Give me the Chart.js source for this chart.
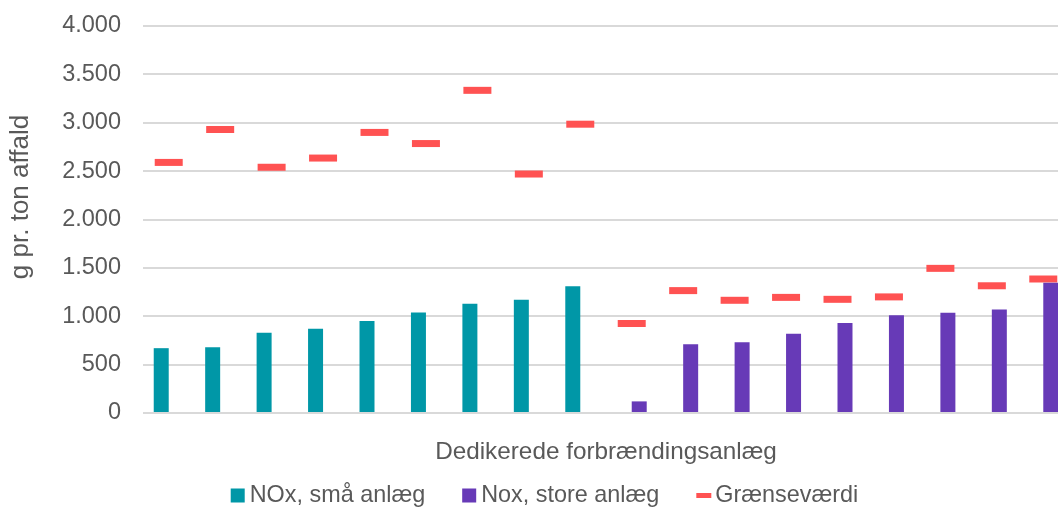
<!DOCTYPE html>
<html lang="da">
<head>
<meta charset="utf-8">
<title>NOx-udledning fra dedikerede forbrændingsanlæg</title>
<script src="https://cdn.jsdelivr.net/npm/chart.js@4.4.1/dist/chart.umd.min.js"></script>
<style>
  html, body { margin: 0; padding: 0; background: #ffffff; overflow: hidden; }
  #wrap { position: absolute; left: 0; top: 0; }
  canvas { display: block; }
</style>
</head>
<body>
<div id="wrap"><canvas id="chart" width="1069" height="507"></canvas></div>
<script>
// Anlæg (kategorier på x-aksen)
const plants = ['1', '2', '3', '4', '5', '6', '7', '8', '9',
                '10', '11', '12', '13', '14', '15', '16', '17', '18'];

// NOx-udledning, g pr. ton affald
const smallPlants = [670, 680, 830, 870, 950, 1040, 1130, 1170, 1310,
                     null, null, null, null, null, null, null, null, null];
const largePlants = [null, null, null, null, null, null, null, null, null,
                     120, 710, 730, 820, 930, 1010, 1035, 1070, 1345];
// Grænseværdi for hvert anlæg
const limitValues = [2590, 2930, 2540, 2635, 2900, 2785, 3335, 2470, 2985,
                     925, 1265, 1165, 1195, 1175, 1200, 1495, 1315, 1385];

// Værdiakse
const yTicks = [0, 500, 1000, 1500, 2000, 2500, 3000, 3500, 4000];

const seriesNames = ['NOx, små anlæg', 'Nox, store anlæg', 'Grænseværdi'];
const axisTitles = { x: 'Dedikerede forbrændingsanlæg', y: 'g pr. ton affald' };

const FONT = '"Liberation Sans", Arial, Helvetica, sans-serif';
const TEXT = '#595959';
const TEAL = '#0097A7';
const PURPLE = '#673AB7';
const RED = '#FF5252';

// Danish thousands separator
function formatDa(v) {
  return String(v).replace(/\B(?=(\d{3})+(?!\d))/g, '.');
}

// Rotated y-axis title
const yTitlePlugin = {
  id: 'yTitle',
  afterDraw(chart, args, opts) {
    const ctx = chart.ctx;
    ctx.save();
    ctx.translate(opts.x, opts.y);
    ctx.rotate(-Math.PI / 2);
    ctx.font = opts.font;
    ctx.fillStyle = opts.color;
    ctx.textAlign = 'center';
    ctx.textBaseline = 'middle';
    ctx.fillText(opts.text, 0, 0);
    ctx.restore();
  }
};

// Legend row under the axis title
const legendPlugin = {
  id: 'bottomLegend',
  afterDraw(chart, args, opts) {
    const ctx = chart.ctx;
    ctx.save();
    ctx.font = opts.font;
    ctx.textBaseline = 'middle';
    ctx.textAlign = 'left';
    const items = chart.data.datasets.map(ds => ({
      text: ds.label,
      color: ds.type === 'line' ? ds.borderColor : ds.backgroundColor,
      dash: ds.type === 'line'
    }));
    const widths = items.map(it => opts.markerW + opts.markerGap + ctx.measureText(it.text).width);
    const total = widths.reduce((a, b) => a + b, 0) + opts.itemGap * (items.length - 1);
    let x = opts.centerX - total / 2;
    const y = opts.y;
    items.forEach((it, i) => {
      ctx.fillStyle = it.color;
      if (it.dash) {
        ctx.fillRect(x, y - 2.5, opts.markerW + 1, 5);
      } else {
        ctx.fillRect(x, y - 7, opts.markerW, 14);
      }
      ctx.fillStyle = opts.color;
      ctx.fillText(it.text, x + opts.markerW + opts.markerGap, y);
      x += widths[i] + opts.itemGap;
    });
    ctx.restore();
  }
};

new Chart(document.getElementById('chart'), {
  data: {
    labels: plants,
    datasets: [
      {
        type: 'bar',
        label: seriesNames[0],
        data: smallPlants,
        backgroundColor: TEAL,
        categoryPercentage: 0.583,
        barPercentage: 1.0
      },
      {
        type: 'bar',
        label: seriesNames[1],
        data: largePlants,
        backgroundColor: PURPLE,
        categoryPercentage: 0.583,
        barPercentage: 1.0
      },
      {
        type: 'line',
        label: seriesNames[2],
        data: limitValues,
        showLine: false,
        borderColor: RED,
        backgroundColor: RED,
        pointStyle: 'line',
        pointRadius: 14,
        pointHoverRadius: 14,
        pointBorderWidth: 7,
        pointBorderColor: RED
      }
    ]
  },
  options: {
    responsive: false,
    animation: false,
    events: [],
    layout: { autoPadding: false, padding: { top: 26, right: 0, bottom: 30, left: 0 } },
    plugins: {
      legend: { display: false },
      tooltip: { enabled: false },
      yTitle: { text: axisTitles.y, x: 21, y: 197, font: '26px ' + FONT, color: TEXT },
      bottomLegend: { font: '23.4px ' + FONT, color: TEXT, centerX: 544.5, y: 495.5,
                      markerW: 14, markerGap: 5, itemGap: 37 }
    },
    scales: {
      x: {
        offset: true,
        grid: { display: false, drawTicks: false },
        border: { display: false },
        ticks: { display: false },
        title: {
          display: true,
          text: axisTitles.x,
          color: TEXT,
          font: { family: FONT, size: 24.3 },
          padding: { top: 0, bottom: 10 }
        },
        afterFit(scale) { scale.height = 64; }
      },
      y: {
        min: 0,
        max: 4000,
        afterBuildTicks(scale) { scale.ticks = yTicks.map(v => ({ value: v })); },
        grid: { color: '#D9D9D9', lineWidth: 2, drawTicks: false },
        border: { display: false },
        ticks: {
          color: TEXT,
          padding: 22,
          font: { family: FONT, size: 23.5 },
          callback: v => formatDa(v)
        },
        afterFit(scale) {
          scale.width = 143;
          scale.paddingTop = 0;
          scale.paddingBottom = 0;
        }
      }
    }
  },
  plugins: [yTitlePlugin, legendPlugin]
});
</script>
</body>
</html>
